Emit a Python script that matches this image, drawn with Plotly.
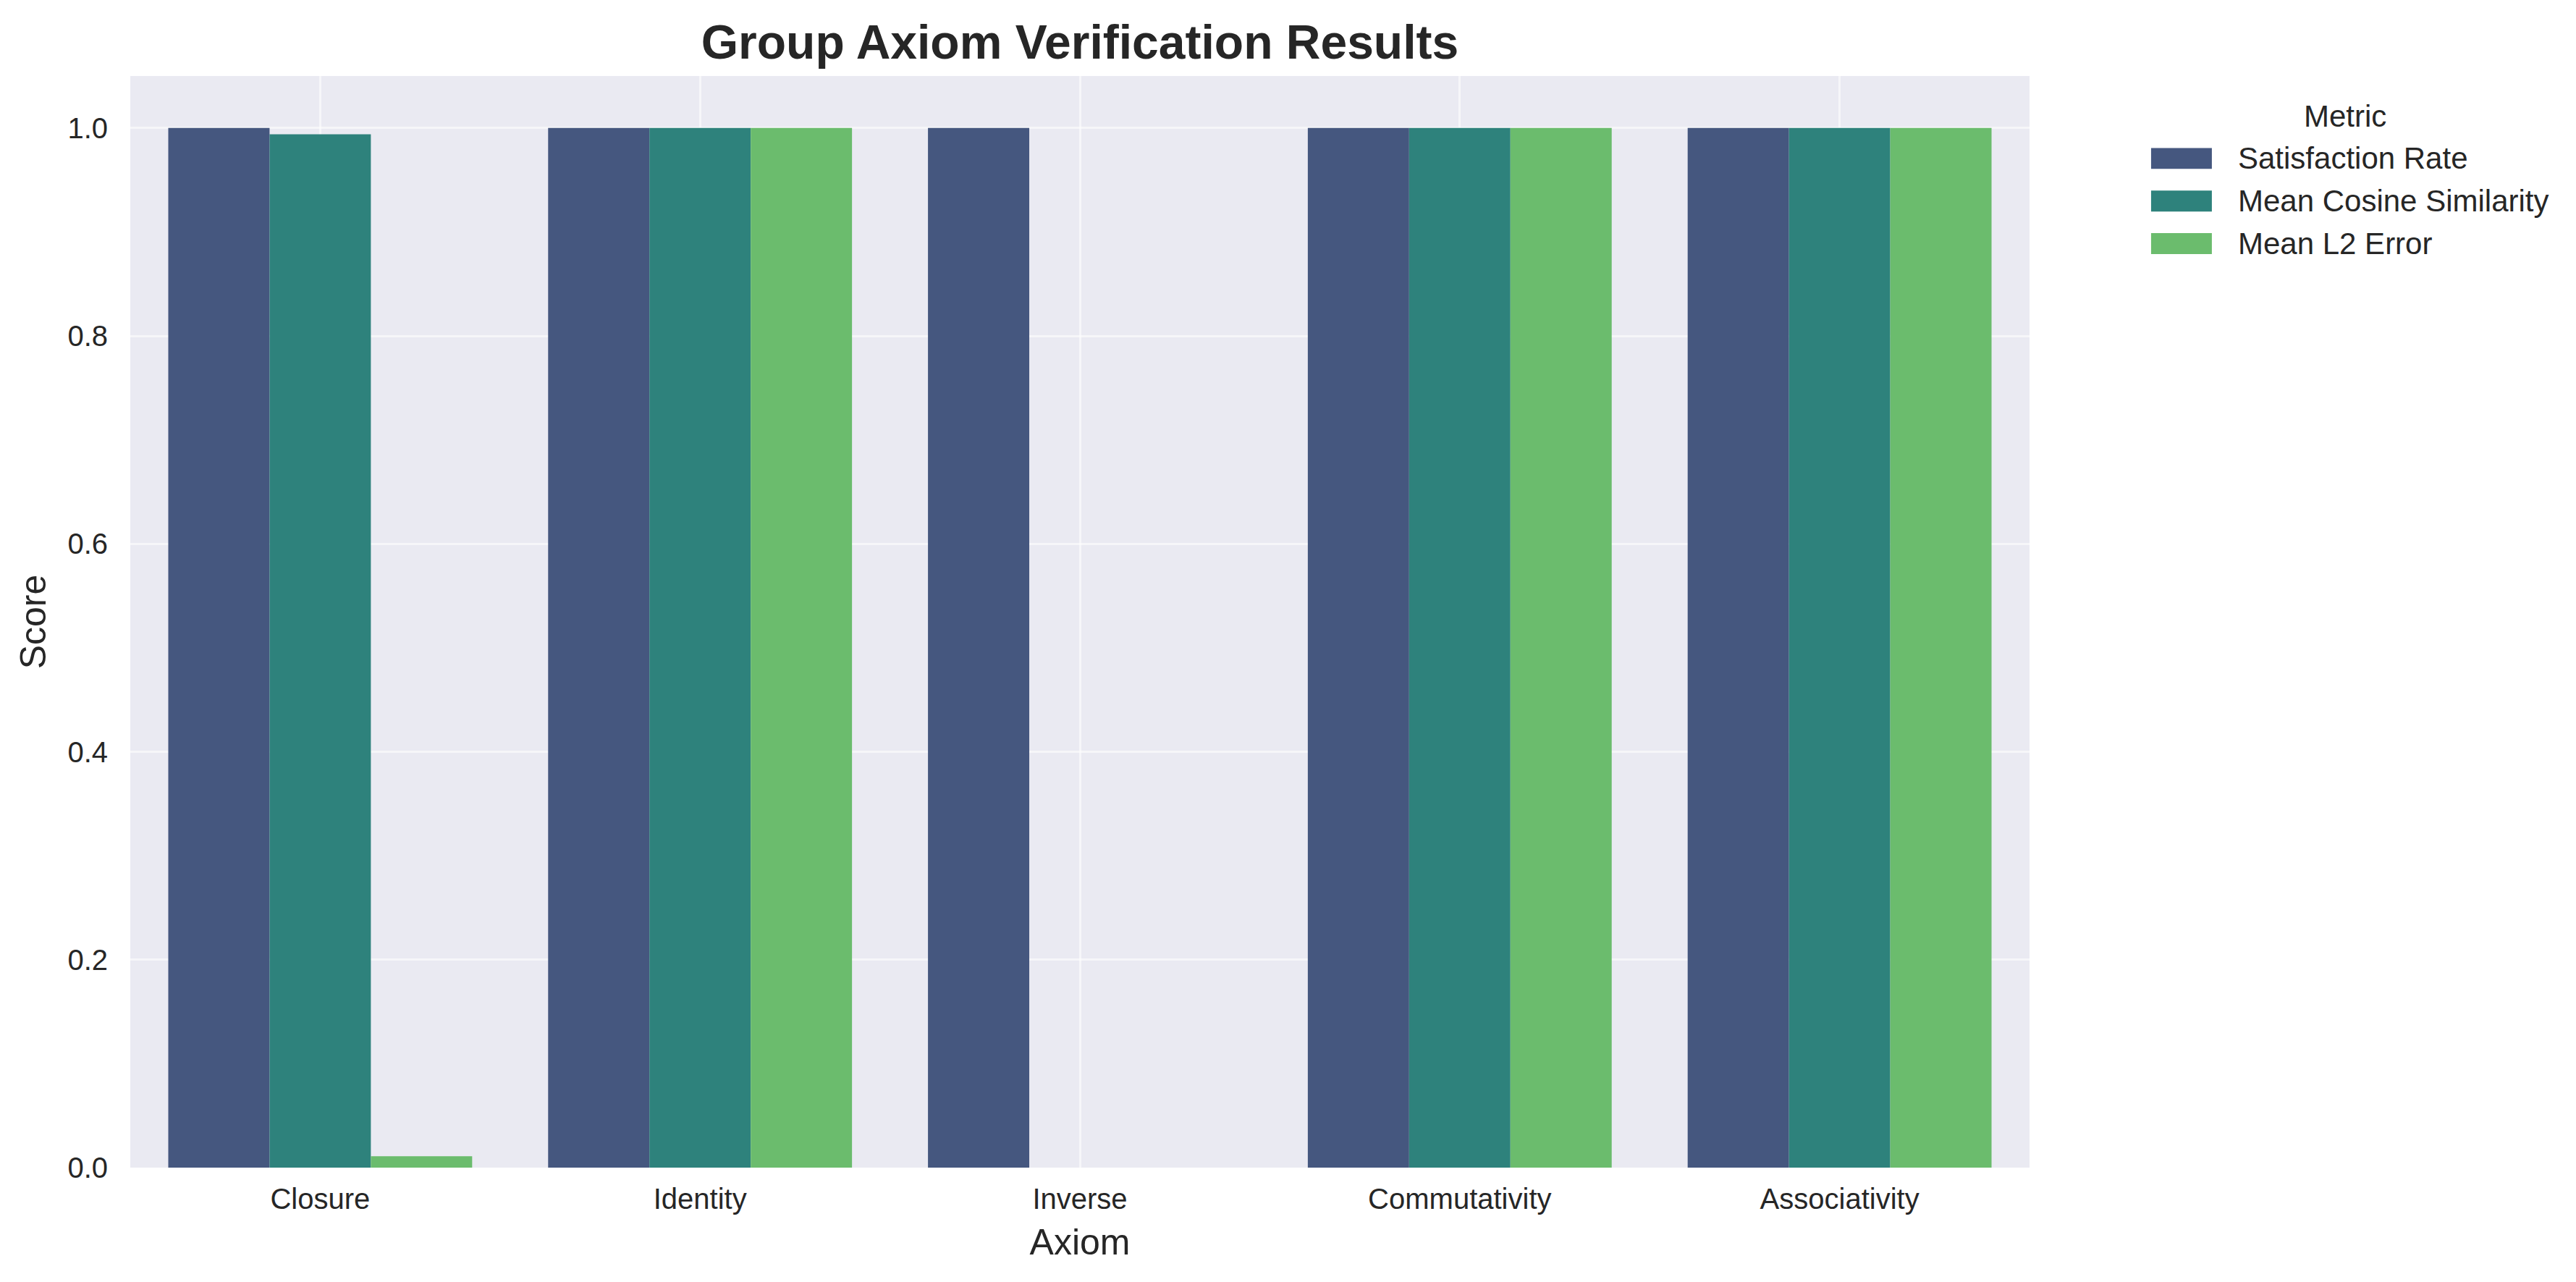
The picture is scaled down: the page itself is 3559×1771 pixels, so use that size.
import plotly.graph_objects as go

axioms = ["Closure", "Identity", "Inverse", "Commutativity", "Associativity"]
metrics = ["Satisfaction Rate", "Mean Cosine Similarity", "Mean L2 Error"]
satisfaction_rate = [1.0, 1.0, 1.0, 1.0, 1.0]
mean_cosine = [0.994, 1.0, 0.0, 1.0, 1.0]
mean_l2 = [0.011, 1.0, 0.0, 1.0, 1.0]
colors = ["#45577F", "#2E827C", "#6BBC6D"]

ink = "#262626"
font = "Liberation Sans, Arial, sans-serif"
grid = "rgba(255,255,255,0.55)"

fig = go.Figure()
for name, vals, col in zip(metrics, [satisfaction_rate, mean_cosine, mean_l2], colors):
    fig.add_trace(go.Bar(x=axioms, y=vals, name=name, marker_color=col,
                         marker_line_width=0, showlegend=False))

# legend drawn by hand so the swatches are wide rectangles like the original
leg_top = 0.9245
leg_step = 0.039
fig.add_annotation(text="Metric", xref="paper", yref="paper", x=1.166, y=leg_top + leg_step,
                   xanchor="center", yanchor="middle", showarrow=False,
                   font=dict(size=42, color=ink))
for i, (name, col) in enumerate(zip(metrics, colors)):
    yc = leg_top - i * leg_step
    fig.add_shape(type="rect", xref="paper", yref="paper",
                  x0=1.064, x1=1.096, y0=yc - 0.0096, y1=yc + 0.0096,
                  fillcolor=col, line_width=0)
    fig.add_annotation(text=name, xref="paper", yref="paper", x=1.109, y=yc,
                       xanchor="left", yanchor="middle", showarrow=False,
                       font=dict(size=42, color=ink))

fig.update_layout(
    width=3559, height=1771,
    barmode="group", bargap=0.2, bargroupgap=0,
    paper_bgcolor="white", plot_bgcolor="#EAEAF2",
    font=dict(family=font, size=40, color=ink),
    margin=dict(l=172, r=763, t=97, b=166),
    title=dict(text="<b>Group Axiom Verification Results</b>", x=0.5, xref="paper",
               y=0.972, yanchor="middle", font=dict(size=66, color=ink)),
)
fig.update_xaxes(title=dict(text="Axiom", font=dict(size=50), standoff=20),
                 showgrid=True, gridcolor=grid, gridwidth=3,
                 ticks="outside", ticklen=8, tickcolor="rgba(0,0,0,0)",
                 showline=False, zeroline=False, range=[-0.5, 4.5])
fig.update_yaxes(title=dict(text="Score", font=dict(size=50), standoff=13),
                 range=[0, 1.05], tickvals=[0, 0.2, 0.4, 0.6, 0.8, 1.0],
                 tickformat=".1f", showgrid=True,
                 gridcolor=grid, gridwidth=3,
                 ticks="outside", ticklen=22, tickcolor="rgba(0,0,0,0)",
                 showline=False, zeroline=False)

fig.write_html("out.html")
